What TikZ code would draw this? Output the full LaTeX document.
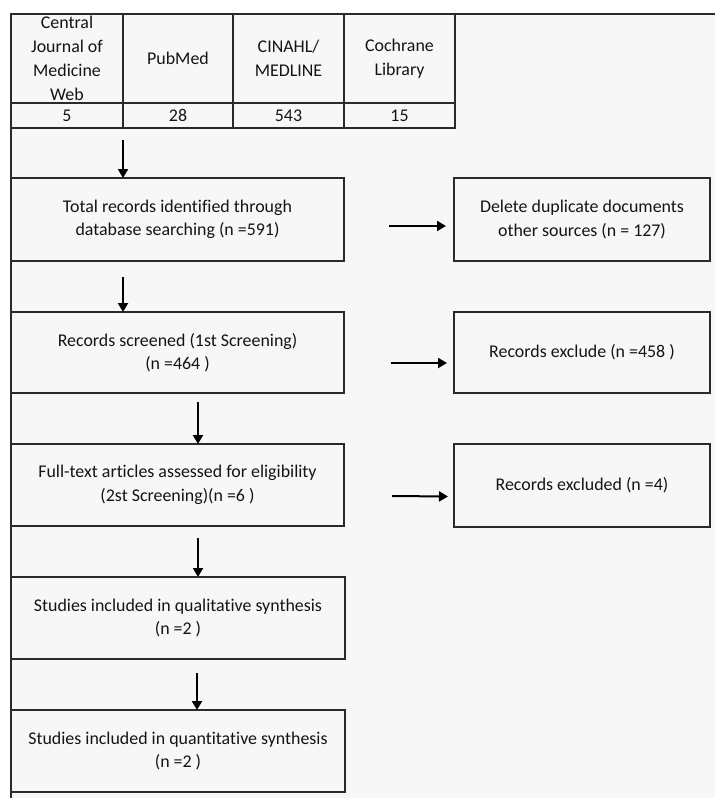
\documentclass[tikz,border=0pt]{standalone}
\usepackage{fontspec}
\setmainfont[Ligatures=NoCommon]{Carlito}
\usetikzlibrary{arrows.meta,calc}
\definecolor{bg}{HTML}{F7F7F7}
\definecolor{ln}{HTML}{2A2A2A}
\definecolor{tx}{HTML}{141414}
\begin{document}
\begin{tikzpicture}[x=1pt,y=-1pt,
  box/.style={draw=ln, line width=1.3pt, inner sep=0pt, outer sep=0pt, align=center, text=tx, font=\fontsize{17.9}{23.5}\selectfont},
  cell/.style={box, font=\fontsize{17.9}{24}\selectfont},
  celltext/.style={align=center, text=tx, inner sep=0pt, font=\fontsize{17.9}{24}\selectfont},
  arr/.style={draw=black, line width=2pt, -{Triangle[length=9pt,width=10pt]}}]
\useasboundingbox (0,0) rectangle (715,798);
\fill[bg] (11,14) rectangle (715,798);
\draw[ln, line width=1.3pt] (715,14) -- (11,14) -- (11,798);
% table header
\node[cell, minimum width=112pt, minimum height=89pt] (h1) at (67,58.5) {};
\node[celltext] (h1t) at (h1.center) {Central\\Journal of\\Medicine\\Web};
\node[cell, minimum width=110pt, minimum height=89pt] (h2) at (178,58.5) {PubMed};
\node[cell, minimum width=111pt, minimum height=89pt] (h3) at (288.5,58.5) {CINAHL/\\MEDLINE};
\node[cell, minimum width=111pt, minimum height=89pt] (h4) at (399.5,58.5) {Cochrane\\Library};
% table numbers
\node[cell, minimum width=112pt, minimum height=25pt] (n1) at (67,115.5) {5};
\node[cell, minimum width=110pt, minimum height=25pt] (n2) at (178,115.5) {28};
\node[cell, minimum width=111pt, minimum height=25pt] (n3) at (288.5,115.5) {543};
\node[cell, minimum width=111pt, minimum height=25pt] (n4) at (399.5,115.5) {15};
% left column
\node[box, minimum width=333pt, minimum height=83pt] (b1) at (177.5,219.5) {Total records identified through\\database searching (n =591)};
\node[box, minimum width=333pt, minimum height=81pt] (b2) at (177.5,352.5) {Records screened (1st Screening)\\(n =464 )};
\node[box, minimum width=333pt, minimum height=82pt] (b3) at (177.5,485) {Full-text articles assessed for eligibility\\(2st Screening)(n =6 )};
\node[box, minimum width=334pt, minimum height=82pt] (b4) at (178,618) {Studies included in qualitative synthesis\\(n =2 )};
\node[box, minimum width=334pt, minimum height=82pt] (b5) at (178,751) {Studies included in quantitative synthesis\\(n =2 )};
% right column
\node[box, minimum width=256pt, minimum height=83pt] (r1) at (582,219.5) {Delete duplicate documents\\other sources (n = 127)};
\node[box, minimum width=256pt, minimum height=81pt] (r2) at (582,352.5) {Records exclude (n =458 )};
\node[box, minimum width=256pt, minimum height=83pt] (r3) at (582,485.5) {Records excluded (n =4)};
% vertical arrows
\draw[arr] ($(n1.south east)+(0,12)$) -- (n1.south east |- b1.north);
\draw[arr] ($(b1.south west)+(112,16)$) -- ($(b2.north west)+(112,0)$);
\draw[arr] ($(b2.south west)+(187,9)$) -- ($(b3.north west)+(187,0)$);
\draw[arr] ($(b3.south west)+(187,12)$) -- ($(b4.north west)+(187,0)$);
\draw[arr] ($(b4.south west)+(186,14)$) -- ($(b5.north west)+(186,0)$);
% horizontal arrows
\draw[arr] ($(b1.east)+(45,6.5)$) -- ($(r1.west)+(-8,6.5)$);
\draw[arr] ($(b2.east)+(47,10.5)$) -- ($(r2.west)+(-7,10.5)$);
\draw[arr] ($(b3.east)+(48,11)$) -- ($(r3.west)+(-6,11)$);
\end{tikzpicture}
\end{document}
